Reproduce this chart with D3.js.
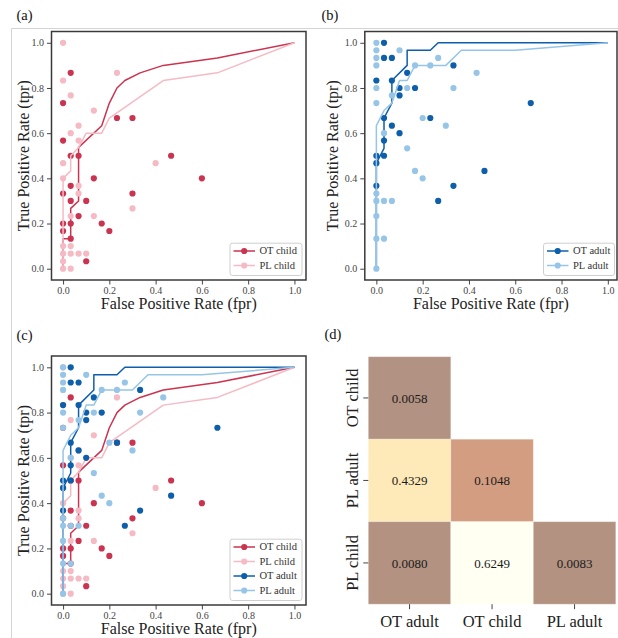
<!DOCTYPE html>
<html>
<head>
<meta charset="utf-8">
<script src="https://cdn.jsdelivr.net/npm/d3@7"></script>
<style>
  body { margin: 0; background: #fff; }
  svg { display: block; }
  svg text { font-family: "Liberation Serif", "Times New Roman", serif; }
</style>
</head>
<body>
<svg id="fig" width="618" height="638"></svg>
<script>
// ---- ROC points per subject: [fpr, tpr] ----
const otChildPts = [
  [0, 0.733], [0, 0.567], [0, 0.333], [0, 0.2], [0, 0.167],
  [0.033, 0.867], [0.033, 0.5], [0.033, 0.367], [0.033, 0.3], [0.033, 0.2], [0.033, 0.133],
  [0.067, 0.5], [0.067, 0.233], [0.1, 0.3], [0.1, 0.033],
  [0.133, 0.4], [0.167, 0.2], [0.2, 0.167],
  [0.233, 0.667], [0.3, 0.667], [0.3, 0.333], [0.467, 0.5], [0.6, 0.4]
];
const plChildPts = [
  [0, 1.0], [0, 0.833], [0, 0.467], [0, 0.4], [0, 0.1], [0, 0.067], [0, 0.033], [0, 0],
  [0.033, 0.767], [0.033, 0.6], [0.033, 0.233], [0.033, 0.1], [0.033, 0.067], [0.033, 0],
  [0.067, 0.633], [0.067, 0.567], [0.067, 0.367], [0.067, 0.333], [0.067, 0.067],
  [0.1, 0.067], [0.133, 0.7], [0.133, 0.233], [0.233, 0.867], [0.3, 0.267], [0.4, 0.467]
];
const otAdultPts = [
  [0.033, 1.0], [0.033, 0.933], [0.067, 0.933], [0, 0.833], [0.067, 0.833],
  [0.133, 0.867], [0.1, 0.8], [0.1, 0.767], [0.167, 0.8], [0.333, 0.9],
  [0.033, 0.667], [0.067, 0.633], [0.1, 0.6], [0.233, 0.667], [0.033, 0.567],
  [0, 0.5], [0.033, 0.5], [0, 0.467], [0, 0.367], [0.333, 0.367],
  [0.267, 0.3], [0.467, 0.433], [0.667, 0.733]
];
const plAdultPts = [
  [0, 1.0], [0, 0.967], [0, 0.933], [0, 0.9], [0.1, 0.967], [0, 0.8], [0, 0.733],
  [0.067, 0.767], [0.133, 0.8], [0.167, 0.9], [0.233, 0.9], [0.267, 0.933],
  [0.333, 0.8], [0.433, 0.867], [0.2, 0.667], [0.3, 0.633], [0.033, 0.6],
  [0.133, 0.533], [0.167, 0.433], [0.2, 0.4], [0, 0.333], [0, 0.3], [0.033, 0.3],
  [0.067, 0.3], [0, 0.233], [0, 0.133], [0.033, 0.133], [0, 0]
];

// ---- mean ROC curves: [fpr, tpr] ----
const otChildCurve = [
  [0, 0], [0, 0.133], [0.033, 0.133], [0.033, 0.267], [0.067, 0.3], [0.067, 0.537],
  [0.167, 0.633], [0.2, 0.733], [0.233, 0.8], [0.267, 0.833], [0.333, 0.867],
  [0.433, 0.9], [0.667, 0.933], [1, 1]
];
const plChildCurve = [
  [0, 0], [0, 0.4], [0.033, 0.433], [0.033, 0.5], [0.067, 0.537], [0.1, 0.6],
  [0.167, 0.6], [0.2, 0.667], [0.433, 0.833], [0.667, 0.867], [1, 1]
];
const otAdultCurve = [
  [0, 0], [0, 0.467], [0.033, 0.533], [0.033, 0.667], [0.067, 0.733], [0.067, 0.833],
  [0.133, 0.9], [0.133, 0.967], [0.233, 0.967], [0.267, 1], [1, 1]
];
const plAdultCurve = [
  [0, 0], [0, 0.633], [0.033, 0.7], [0.067, 0.733], [0.1, 0.833], [0.133, 0.833],
  [0.167, 0.9], [0.3, 0.9], [0.367, 0.967], [0.6, 0.967], [1, 1]
];

const rocTicks = [0, 0.2, 0.4, 0.6, 0.8, 1.0];

// ---- pairwise p-values ----
const heatCols = ["OT adult", "OT child", "PL adult"];
const heatRows = ["OT child", "PL adult", "PL child"];
const heatValues = [
  ["OT child", "OT adult", 0.0058],
  ["PL adult", "OT adult", 0.4329],
  ["PL adult", "OT child", 0.1048],
  ["PL child", "OT adult", 0.0080],
  ["PL child", "OT child", 0.6249],
  ["PL child", "PL adult", 0.0083]
];

const groups = {
  otChild: { label: "OT child", color: "#cb3450", pts: otChildPts, curve: otChildCurve },
  plChild: { label: "PL child", color: "#f5bac4", pts: plChildPts, curve: plChildCurve },
  otAdult: { label: "OT adult", color: "#0d5fab", pts: otAdultPts, curve: otAdultCurve },
  plAdult: { label: "PL adult", color: "#96c5e8", pts: plAdultPts, curve: plAdultCurve }
};

const svg = d3.select("#fig");
svg.append("rect").attr("width", 618).attr("height", 638).attr("fill", "#fff");

// light guide lines bounding the figure area
svg.append("path")
  .attr("d", "M11.5,638 V28.5 H618")
  .attr("fill", "none").attr("stroke", "#d4d4d4").attr("stroke-width", 1);

function panelLabel(text, x, y) {
  svg.append("text").attr("x", x).attr("y", y)
    .attr("font-size", 14.5).attr("fill", "#111").text(text);
}

function styleAxis(a, size, fill) {
  a.attr("font-family", null);
  a.select(".domain").remove();
  a.selectAll("line").attr("stroke", "#444").attr("stroke-width", 1);
  a.selectAll("text").attr("font-size", size).attr("fill", fill);
}

function rocPanel(box, keys, legendBox) {
  const g = svg.append("g");
  const x = d3.scaleLinear().domain([-0.05, 1.05]).range([box.left, box.right]);
  const y = d3.scaleLinear().domain([-0.05, 1.05]).range([box.bottom, box.top]);
  const frameRight = box.frameRight ?? box.right;

  const clipId = "clip" + Math.round(box.left) + Math.round(box.top);
  g.append("clipPath").attr("id", clipId).append("rect")
    .attr("x", box.left).attr("y", box.top)
    .attr("width", frameRight - box.left).attr("height", box.bottom - box.top);

  const plot = g.append("g").attr("clip-path", `url(#${clipId})`);
  const line = d3.line().x(d => x(d[0])).y(d => y(d[1]));

  keys.forEach(k => {
    const s = groups[k];
    plot.append("g").selectAll("circle").data(s.pts).join("circle")
      .attr("cx", d => x(d[0])).attr("cy", d => y(d[1])).attr("r", 3.1)
      .attr("fill", s.color);
    plot.append("path").datum(s.curve)
      .attr("d", line).attr("fill", "none")
      .attr("stroke", s.color).attr("stroke-width", 1.5)
      .attr("stroke-linejoin", "round");
  });

  // axes
  const fmt = d3.format(".1f");
  const xa = g.append("g").attr("transform", `translate(0,${box.bottom})`)
    .call(d3.axisBottom(x).tickValues(rocTicks).tickFormat(fmt).tickSize(4.5).tickPadding(2));
  const ya = g.append("g").attr("transform", `translate(${box.left},0)`)
    .call(d3.axisLeft(y).tickValues(rocTicks).tickFormat(fmt).tickSize(4.5).tickPadding(3));
  styleAxis(xa, 10, "#444");
  styleAxis(ya, 10, "#444");

  g.append("rect")
    .attr("x", box.left).attr("y", box.top)
    .attr("width", frameRight - box.left).attr("height", box.bottom - box.top)
    .attr("fill", "none").attr("stroke", "#3a3a3a").attr("stroke-width", 1.5);

  // axis titles
  g.append("text")
    .attr("x", (box.left + frameRight) / 2).attr("y", box.bottom + 29)
    .attr("text-anchor", "middle").attr("font-size", 16).attr("fill", "#222")
    .text("False Positive Rate (fpr)");
  g.append("text")
    .attr("transform", `translate(${box.left - box.yTitleOff},${(box.top + box.bottom) / 2}) rotate(-90)`)
    .attr("text-anchor", "middle").attr("font-size", 16).attr("fill", "#222")
    .text("True Positive Rate (tpr)");

  // legend
  const rowH = 14.5, padTop = 7.8, padBottom = 10;
  const lh = padTop + rowH * (keys.length - 1) + padBottom;
  const lg = g.append("g").attr("transform", `translate(${legendBox.left},${box.bottom - 4.5 - lh})`);
  lg.append("rect").attr("width", legendBox.width).attr("height", lh).attr("rx", 2.5)
    .attr("fill", "#fff").attr("fill-opacity", 0.85).attr("stroke", "#cfcfcf").attr("stroke-width", 1);
  keys.forEach((k, i) => {
    const s = groups[k];
    const cy = padTop + i * rowH;
    lg.append("line").attr("x1", 3.5).attr("x2", 25).attr("y1", cy).attr("y2", cy)
      .attr("stroke", s.color).attr("stroke-width", 1.5);
    lg.append("circle").attr("cx", 14.2).attr("cy", cy).attr("r", 3.1).attr("fill", s.color);
    lg.append("text").attr("x", 29.5).attr("y", cy).attr("dy", "0.33em")
      .attr("font-size", 10.5).attr("fill", "#333").text(s.label);
  });
}

// (a) children
panelLabel("(a)", 16.5, 20);
rocPanel({ left: 51.5, right: 306, top: 31.5, bottom: 280, yTitleOff: 23 },
  ["otChild", "plChild"], { left: 230, width: 72 });

// (b) adults
panelLabel("(b)", 321.5, 20);
rocPanel({ left: 364.8, right: 619.4, frameRight: 617, top: 31.5, bottom: 280, yTitleOff: 26.5 },
  ["otAdult", "plAdult"], { left: 543.5, width: 71 });

// (c) all groups
panelLabel("(c)", 16.5, 340);
rocPanel({ left: 51.5, right: 306, top: 356, bottom: 605, yTitleOff: 23 },
  ["otChild", "plChild", "otAdult", "plAdult"], { left: 230, width: 72 });

// (d) p-value heatmap
panelLabel("(d)", 324.5, 339);
(function heatmap() {
  const left = 368.3, top = 356.7, cell = 82.5;
  const x = d3.scaleBand().domain(heatCols).range([left, left + cell * heatCols.length]);
  const y = d3.scaleBand().domain(heatRows).range([top, top + cell * heatRows.length]);
  const color = d3.scaleSequential(d3.interpolateYlOrBr)
    .domain([d3.max(heatValues, d => d[2]), d3.min(heatValues, d => d[2])]);
  const g = svg.append("g");
  g.selectAll("rect").data(heatValues).join("rect")
    .attr("x", d => x(d[1])).attr("y", d => y(d[0]))
    .attr("width", x.bandwidth()).attr("height", y.bandwidth())
    .attr("fill", d => color(d[2])).attr("fill-opacity", 0.5)
    .attr("stroke", "#fff").attr("stroke-opacity", 0.35).attr("stroke-width", 0.8);
  g.selectAll("text.val").data(heatValues).join("text").attr("class", "val")
    .attr("x", d => x(d[1]) + x.bandwidth() / 2).attr("y", d => y(d[0]) + y.bandwidth() / 2)
    .attr("dy", "0.35em").attr("text-anchor", "middle")
    .attr("font-size", 13).attr("fill", "#1a1a1a")
    .text(d => d3.format(".4f")(d[2]));

  const xa = g.append("g").attr("transform", `translate(0,${top + cell * heatRows.length})`)
    .call(d3.axisBottom(x).tickSize(5).tickPadding(3));
  const ya = g.append("g").attr("transform", `translate(${left},0)`)
    .call(d3.axisLeft(y).tickSize(5).tickPadding(3));
  styleAxis(xa, 16.5, "#222");
  styleAxis(ya, 16.5, "#222");
  xa.selectAll("text").attr("dy", "0.9em");
  // row labels read bottom-to-top, centred on each tick
  ya.selectAll("text")
    .attr("text-anchor", "middle").attr("x", 0).attr("y", 0).attr("dy", 0)
    .attr("transform", "translate(-10.8,0) rotate(-90)");
})();
</script>
</body>
</html>
